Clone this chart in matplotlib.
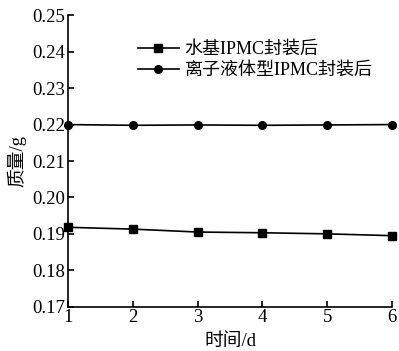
import matplotlib
matplotlib.use('Agg')
import matplotlib.pyplot as plt

plt.rcParams['font.family'] = ['Liberation Serif', 'Noto Sans CJK SC']

days = [1, 2, 3, 4, 5, 6]
water_based = [0.1918, 0.1913, 0.1905, 0.1903, 0.1900, 0.1895]
ionic_liquid = [0.2200, 0.2198, 0.2199, 0.2198, 0.2199, 0.2200]
labels = ['水基IPMC封装后', '离子液体型IPMC封装后']
y_ticks = [0.17, 0.18, 0.19, 0.20, 0.21, 0.22, 0.23, 0.24, 0.25]

fig = plt.figure(figsize=(3.99, 3.51), dpi=100)
ax = fig.add_axes([0.1704, 0.1262, 0.8121, 0.8302])

ax.plot(days, water_based, color='black', lw=1.2, marker='s', ms=5.5, label=labels[0], clip_on=False)
ax.plot(days, ionic_liquid, color='black', lw=1.2, marker='o', ms=5.5, label=labels[1], clip_on=False)

ax.set_xlim(1, 6)
ax.set_ylim(0.17, 0.25)
ax.set_xticks(days)
ax.set_yticks(y_ticks)
ax.set_yticklabels([f'{v:.2f}' for v in y_ticks])
ax.tick_params(direction='in', length=4, width=1.2, labelsize=13.5, pad=2)
for s in ['top', 'right']:
    ax.spines[s].set_visible(False)
for s in ['left', 'bottom']:
    ax.spines[s].set_linewidth(1.2)

ax.set_xlabel('时间/d', fontsize=13.5, labelpad=5)
ax.set_ylabel('质量/g', fontsize=13.5, labelpad=4)

ax.legend(loc='upper left', bbox_to_anchor=(0.215, 0.912), frameon=False, fontsize=13,
          handlelength=2.3, handletextpad=0.3, labelspacing=0.22, borderpad=0, borderaxespad=0)

fig.savefig('out.png', dpi=100)
